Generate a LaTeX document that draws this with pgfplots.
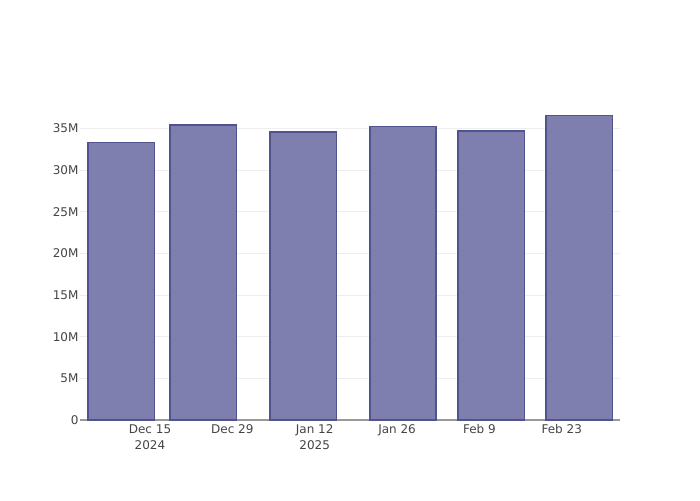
\documentclass[border=0pt]{standalone}
\usepackage{pgfplots}
\pgfplotsset{compat=1.18}
\usepackage{fontspec}
\setmainfont{DejaVu Sans}
\definecolor{barfill}{HTML}{7F7FAF}
\definecolor{barline}{HTML}{52528F}
\definecolor{ticktext}{HTML}{444444}
\definecolor{gridc}{HTML}{EEEEEE}
\begin{document}
\begin{tikzpicture}
\useasboundingbox (-80pt,-80pt) rectangle (620pt,420pt);
\begin{axis}[
  at={(0,0)}, anchor=south west,
  scale only axis,
  width=540pt, height=320pt,
  xmin=-11.9, xmax=79.9,
  ymin=0, ymax=38.4,
  axis x line*=bottom,
  axis y line*=left,
  y axis line style={draw=none},
  x axis line style={color=black!40, line width=1.2pt},
  xtick={0,14,28,42,56,70},
  xticklabels={{Dec 15\\2024},{Dec 29},{Jan 12\\2025},{Jan 26},{Feb 9},{Feb 23}},
  xticklabel style={align=center, font=\fontsize{12}{16}\selectfont, text=ticktext, yshift=-1pt},
  major tick length=0pt,
  ytick={0,5,10,15,20,25,30,35},
  yticklabels={0,5M,10M,15M,20M,25M,30M,35M},
  yticklabel style={font=\fontsize{12}{15}\selectfont, text=ticktext, xshift=2pt},
  ymajorgrids, grid style={gridc, line width=0.8pt},
  /pgf/number format/assume math mode=true,
  ]
\addplot[ybar, bar width=11.3, fill=barfill, draw=barline, line width=1.6pt]
  coordinates {
  (-4.9, 33.32)
  (9.07, 35.40)
  (26.07, 34.59)
  (43.0, 35.24)
  (57.98, 34.68)
  (72.97, 36.56)
};
\end{axis}
\end{tikzpicture}
\end{document}
